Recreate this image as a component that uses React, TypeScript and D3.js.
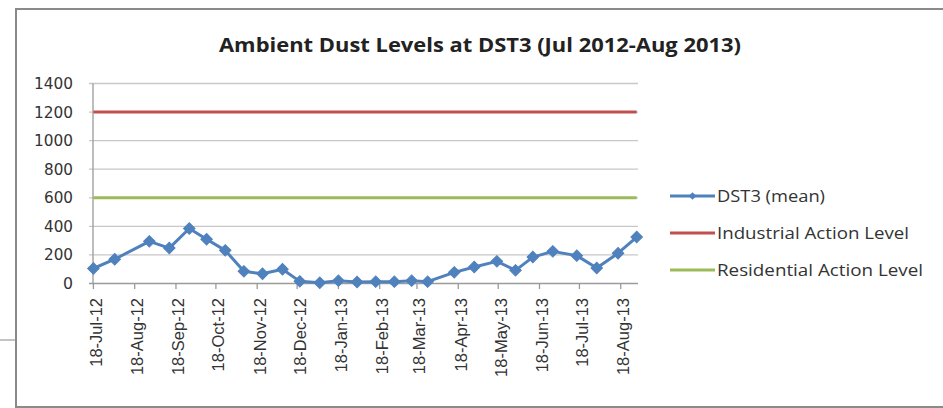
import React from "react";
import * as d3 from "d3";

const sampleDates = [
  "2012-07-18", "2012-08-03", "2012-08-29", "2012-09-13", "2012-09-28", "2012-10-11", "2012-10-25",
  "2012-11-08", "2012-11-22", "2012-12-07", "2012-12-20", "2013-01-04", "2013-01-18", "2013-02-01",
  "2013-02-15", "2013-03-01", "2013-03-14", "2013-03-26", "2013-04-15", "2013-04-30", "2013-05-17",
  "2013-05-31", "2013-06-13", "2013-06-28", "2013-07-16", "2013-07-31", "2013-08-16", "2013-08-30",
];
const dst3Mean = [105, 170, 295, 248, 385, 310, 232, 85, 68, 100, 15, 5, 20, 10, 13, 13, 20, 13, 78, 115, 155, 92, 185, 225, 195, 108, 212, 325];
const industrialLevel = 1200;
const residentialLevel = 600;
const yTicks = [0, 200, 400, 600, 800, 1000, 1200, 1400];
const xTickDates = [
  "2012-07-18", "2012-08-18", "2012-09-18", "2012-10-18", "2012-11-18", "2012-12-18", "2013-01-18",
  "2013-02-18", "2013-03-18", "2013-04-18", "2013-05-18", "2013-06-18", "2013-07-18", "2013-08-18",
];
const title = "Ambient Dust Levels at DST3 (Jul 2012-Aug 2013)";
const legendLabels = ["DST3 (mean)", "Industrial Action Level", "Residential Action Level"];

const BLUE = "#4F81BD";
const RED = "#C0504D";
const GREEN = "#9BBB59";

export default function App() {
  const parse = d3.timeParse("%Y-%m-%d");
  const fmt = d3.timeFormat("%d-%b-%y");
  const dates = sampleDates.map((s) => parse(s) as Date);
  const ticks = xTickDates.map((s) => parse(s) as Date);

  const x = d3.scaleTime().domain([dates[0], dates[dates.length - 1]]).range([93.4, 636.7]);
  const y = d3.scaleLinear().domain([0, 1400]).range([283.5, 83.5]);

  const pts = dates.map((d, i) => [x(d), y(dst3Mean[i])] as [number, number]);
  const line = d3.line()(pts) || "";
  const diamond = d3.symbol(d3.symbolSquare, 66)() || "";

  const x0 = x(dates[0]);
  const x1 = x(dates[dates.length - 1]);
  const legendY = [196, 233, 270];
  const legendColors = [BLUE, RED, GREEN];
  const legendLens = [108, 192, 206];

  return (
    <svg width={943} height={408} style={{ position: "absolute", left: 0, top: 0, background: "#fff" }}>
      <line x1={0} x2={16} y1={340} y2={340} stroke="#b0b0b0" strokeWidth={1.5} />
      <rect x={16} y={9} width={940} height={398} fill="#fff" stroke="#8a8a8a" strokeWidth={2} />
      <text
        x={480}
        y={52}
        textAnchor="middle"
        fontFamily="'Open Sans', 'Noto Sans', sans-serif"
        fontWeight={700}
        fontSize={19}
        fill="#222"
        textLength={522}
        lengthAdjust="spacingAndGlyphs"
      >
        {title}
      </text>

      {yTicks.map((t) => (
        <g key={t}>
          <line x1={89} x2={638} y1={y(t)} y2={y(t)} stroke={t === 0 ? "#9a9a9a" : "#c8c8c8"} strokeWidth={1.3} />
          <text
            x={73}
            y={y(t) + 5.5}
            textAnchor="end"
            fontFamily="'DejaVu Sans', sans-serif"
            fontSize={15}
            fill="#333"
            textLength={t >= 1000 ? 39 : t === 0 ? 10 : 29}
            lengthAdjust="spacingAndGlyphs"
          >
            {t}
          </text>
        </g>
      ))}
      <line x1={93} x2={93} y1={83.5} y2={283.5} stroke="#9a9a9a" strokeWidth={1.3} />

      {ticks.map((t, i) => (
        <g key={i} transform={`translate(${x(t)},0)`}>
          <line y1={283.5} y2={289} stroke="#9a9a9a" strokeWidth={1.3} />
          <text
            transform={`translate(8.5,298) rotate(-90)`}
            textAnchor="end"
            fontFamily="'Liberation Sans', Arial, sans-serif"
            fontSize={16.5}
            fill="#333"
          >
            {fmt(t)}
          </text>
        </g>
      ))}

      <line x1={x0} x2={x1} y1={y(industrialLevel)} y2={y(industrialLevel)} stroke={RED} strokeWidth={3} />
      <line x1={x0} x2={x1} y1={y(residentialLevel)} y2={y(residentialLevel)} stroke={GREEN} strokeWidth={3} />

      <path d={line} fill="none" stroke={BLUE} strokeWidth={3} strokeLinejoin="round" />
      {pts.map((p, i) => (
        <path key={i} d={diamond} transform={`translate(${p[0]},${p[1]}) rotate(45)`} fill={BLUE} stroke={BLUE} strokeWidth={1} />
      ))}

      {legendLabels.map((lab, i) => (
        <g key={lab}>
          <line x1={670} x2={715} y1={legendY[i]} y2={legendY[i]} stroke={legendColors[i]} strokeWidth={3} />
          {i === 0 && (
            <path d={d3.symbol(d3.symbolSquare, 30)() || ""} transform={`translate(692.5,${legendY[i]}) rotate(45)`} fill={BLUE} />
          )}
          <text
            x={717}
            y={legendY[i] + 6}
            fontFamily="'Open Sans', 'Noto Sans', sans-serif"
            fontSize={16}
            fill="#333"
            textLength={legendLens[i]}
            lengthAdjust="spacingAndGlyphs"
          >
            {lab}
          </text>
        </g>
      ))}
    </svg>
  );
}
